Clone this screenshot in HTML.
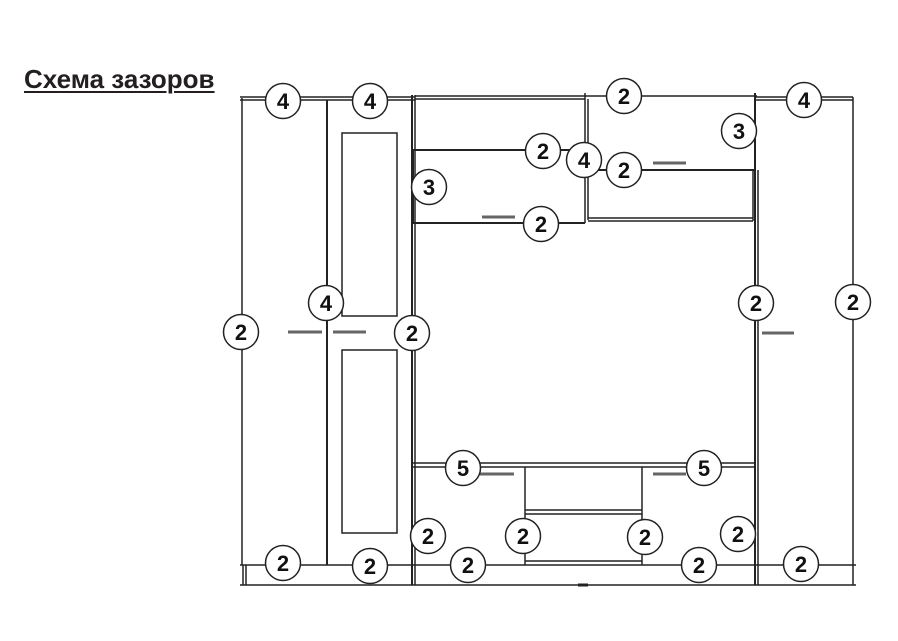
<!DOCTYPE html>
<html><head><meta charset="utf-8"><style>
body{margin:0;background:#fff;width:898px;height:641px;overflow:hidden;position:relative;font-family:"Liberation Sans",sans-serif}
.t{position:absolute;left:24px;top:64px;font-size:26px;font-weight:bold;color:#231f20;text-decoration:underline;text-decoration-thickness:2px;text-underline-offset:3px;letter-spacing:0px}
</style></head><body>
<div class="t">Схема зазоров</div>
<svg width="898" height="641" style="position:absolute;left:0;top:0" fill="none" stroke="#222" stroke-width="1.5">
<line x1="240" y1="97" x2="415" y2="97"/><line x1="240" y1="100" x2="415" y2="100"/>
<line x1="242" y1="98" x2="242" y2="565"/>
<line x1="327" y1="100" x2="327" y2="565" stroke-width="2"/>
<line x1="412" y1="95" x2="412" y2="585" stroke-width="2"/>
<line x1="415" y1="95" x2="415" y2="585"/>
<rect x="342" y="133" width="55" height="183"/>
<rect x="342" y="350" width="55" height="183"/>
<line x1="240" y1="565" x2="856" y2="565"/>
<line x1="240" y1="585" x2="856" y2="585"/>
<line x1="243" y1="565" x2="243" y2="585"/><line x1="246" y1="565" x2="246" y2="585"/>
<line x1="415" y1="96" x2="757" y2="96"/>
<line x1="415" y1="99" x2="585" y2="99"/>
<line x1="585" y1="93" x2="585" y2="223"/><line x1="588" y1="99" x2="588" y2="220"/>
<line x1="413" y1="150" x2="585" y2="150" stroke-width="2"/>
<line x1="413" y1="223" x2="585" y2="223" stroke-width="2"/>
<line x1="413" y1="150" x2="413" y2="223" stroke-width="2"/>
<line x1="585" y1="170" x2="755" y2="170" stroke-width="2"/>
<line x1="588" y1="218" x2="753" y2="218"/><line x1="588" y1="221" x2="753" y2="221"/>
<line x1="753" y1="170" x2="753" y2="221"/>
<line x1="755" y1="93" x2="755" y2="585" stroke-width="2"/>
<line x1="758" y1="170" x2="758" y2="585"/>
<line x1="755" y1="97" x2="853" y2="97"/><line x1="755" y1="100" x2="853" y2="100"/>
<line x1="853" y1="97" x2="853" y2="585"/>
<line x1="412" y1="463" x2="755" y2="463"/><line x1="412" y1="467" x2="755" y2="467"/>
<line x1="525" y1="467" x2="525" y2="565"/><line x1="642" y1="467" x2="642" y2="565"/>
<line x1="525" y1="510" x2="642" y2="510"/><line x1="525" y1="514" x2="642" y2="514"/>
<line x1="525" y1="561" x2="642" y2="561"/>
<line x1="578" y1="585" x2="588" y2="585" stroke-width="3"/>
<g stroke="#666" stroke-width="3">
<line x1="288" y1="332" x2="322" y2="332"/><line x1="333" y1="332" x2="366" y2="332"/>
<line x1="482" y1="217" x2="515" y2="217"/><line x1="653" y1="163" x2="686" y2="163"/>
<line x1="480" y1="474" x2="514" y2="474"/><line x1="653" y1="474" x2="686" y2="474"/>
<line x1="762" y1="333" x2="794" y2="333"/>
</g>
<g fill="#fff" stroke="#222" stroke-width="1.5">
<circle cx="283" cy="101" r="17.5"/><circle cx="370" cy="101" r="17.5"/><circle cx="624" cy="96" r="17.5"/><circle cx="804" cy="100" r="17.5"/>
<circle cx="739" cy="131" r="17.5"/><circle cx="543" cy="151" r="17.5"/><circle cx="584" cy="160" r="17.5"/><circle cx="624" cy="170" r="17.5"/>
<circle cx="429" cy="187" r="17.5"/><circle cx="541" cy="224" r="17.5"/><circle cx="326" cy="303" r="17.5"/><circle cx="241" cy="332" r="17.5"/>
<circle cx="412" cy="333" r="17.5"/><circle cx="756" cy="303" r="17.5"/><circle cx="853" cy="302" r="17.5"/><circle cx="463" cy="468" r="17.5"/>
<circle cx="704" cy="468" r="17.5"/><circle cx="428" cy="536" r="17.5"/><circle cx="523" cy="536" r="17.5"/><circle cx="645" cy="537" r="17.5"/>
<circle cx="738" cy="534" r="17.5"/><circle cx="283" cy="563" r="17.5"/><circle cx="370" cy="566" r="17.5"/><circle cx="468" cy="565" r="17.5"/>
<circle cx="699" cy="565" r="17.5"/><circle cx="801" cy="564" r="17.5"/>
</g>
<g fill="#111" stroke="none" font-family="Liberation Sans,sans-serif" font-weight="bold" font-size="22" text-anchor="middle">
<text x="283" y="109">4</text><text x="370" y="109">4</text><text x="624" y="104">2</text><text x="804" y="108">4</text>
<text x="739" y="139">3</text><text x="543" y="159">2</text><text x="584" y="168">4</text><text x="624" y="178">2</text>
<text x="429" y="195">3</text><text x="541" y="232">2</text><text x="326" y="311">4</text><text x="241" y="340">2</text>
<text x="412" y="341">2</text><text x="756" y="311">2</text><text x="853" y="310">2</text><text x="463" y="476">5</text>
<text x="704" y="476">5</text><text x="428" y="544">2</text><text x="523" y="544">2</text><text x="645" y="545">2</text>
<text x="738" y="542">2</text><text x="283" y="571">2</text><text x="370" y="574">2</text><text x="468" y="573">2</text>
<text x="699" y="573">2</text><text x="801" y="572">2</text>
</g>
</svg>
</body></html>
